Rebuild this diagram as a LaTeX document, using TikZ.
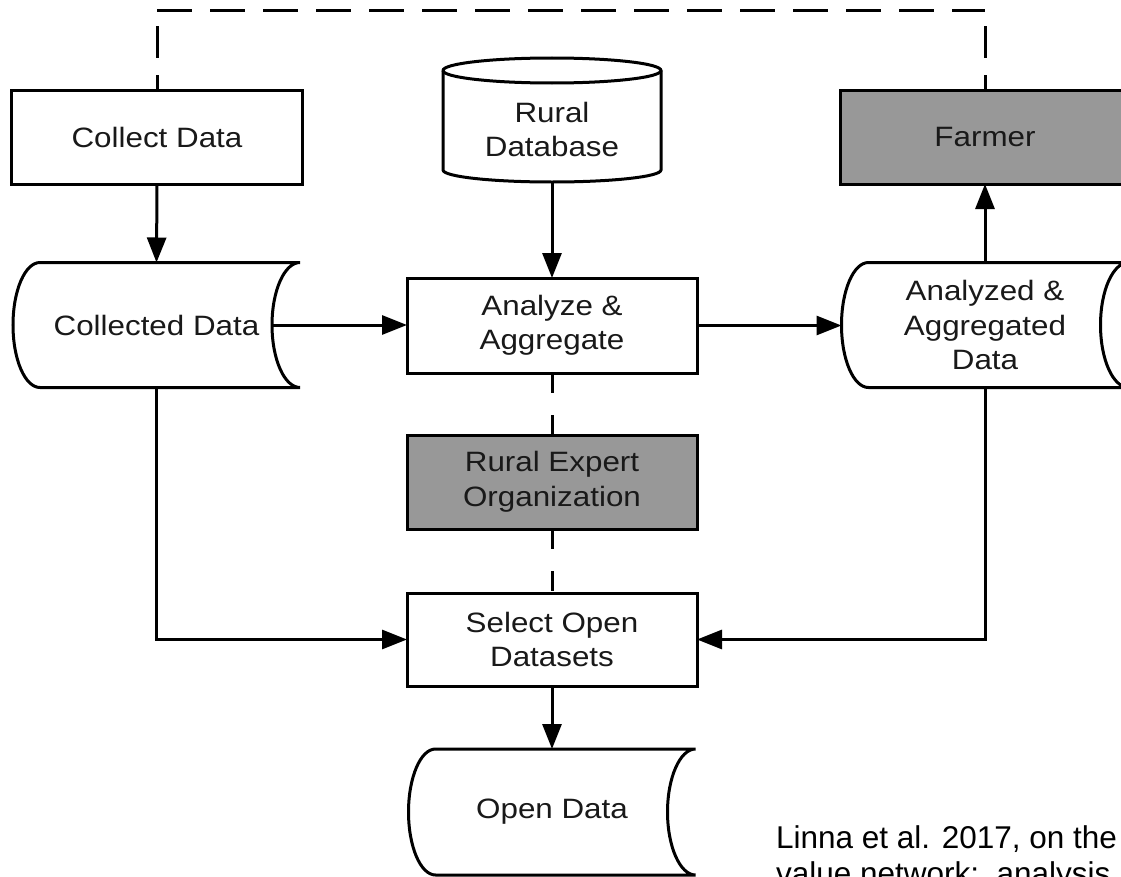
\documentclass[tikz,border=0pt]{standalone}
\usepackage{fontspec}
\setmainfont{Liberation Sans}
\newfontfamily\diafont{Liberation Sans}[FakeStretch=1.12]
\usetikzlibrary{arrows.meta,calc}
\definecolor{boxgray}{RGB}{152,152,152}
\newcommand\storedpath[1]{%
\draw[ln] ([xshift=27bp]#1.north west) -- (#1.north east)
 .. controls ([xshift=-15.5bp]#1.north east) and ([xshift=-28bp,yshift=34.5bp]#1.east) .. ([xshift=-28bp]#1.east)
 .. controls ([xshift=-28bp,yshift=-34.5bp]#1.east) and ([xshift=-15.5bp]#1.south east) .. (#1.south east)
 -- ([xshift=27bp]#1.south west)
 .. controls ([xshift=12bp]#1.south west) and ([yshift=-34.5bp]#1.west) .. (#1.west)
 .. controls ([yshift=34.5bp]#1.west) and ([xshift=12bp]#1.north west) .. cycle;}
\begin{document}
\begin{tikzpicture}[x=1bp,y=-1bp,
 ln/.style={line width=3bp, draw=black},
 txt/.style={font=\diafont\fontsize{28bp}{34.5bp}\selectfont, align=center, text=black!90},
 procbox/.style={ln, txt, rectangle, minimum width=290bp, minimum height=94bp, inner sep=0pt, outer sep=0pt, fill=white},
 graybox/.style={procbox, fill=boxgray},
 storebox/.style={txt, rectangle, minimum width=287bp, minimum height=125bp, inner sep=0pt, outer sep=0pt},
 arr/.style={ln, -{Triangle[length=25bp,width=19bp]}},
 dashlong/.style={ln, dash pattern=on 35bp off 18bp},
 dashvert/.style={ln, dash pattern=on 32bp off 17bp, dash phase=17bp},
 dashmid/.style={ln, dash pattern=on 20bp off 22bp},
 capt/.style={font=\fontsize{31.5bp}{36bp}\selectfont, inner sep=0pt, outer sep=0pt, text=black}
]
\useasboundingbox (0,0) rectangle (1121,877);
\clip (0,0) rectangle (1121,877);
\fill[white] (0,0) rectangle (1121,877);

% process boxes
\node[procbox] (cdata) at (157,137) {Collect Data};
\node[graybox] (farmer) at (985,137) {Farmer};
\node[procbox, minimum height=95bp] (aa) at (552,325.5) {Analyze \&\\Aggregate};
\node[graybox] (reo) at (552,482) {Rural Expert\\Organization};
\node[procbox, minimum height=93bp] (sel) at (552,639.5) {Select Open\\Datasets};

% stored data shapes
\node[storebox] (cd) at (156.5,325) {Collected Data};
\storedpath{cd}
\node[storebox] (ad) at (985,325) {Analyzed \&\\Aggregated\\Data};
\storedpath{ad}
\node[storebox, minimum height=126bp] (od) at (552,812) {Open Data};
\storedpath{od}

% database cylinder
\node[rectangle, minimum width=218bp, minimum height=124bp, inner sep=0pt, outer sep=0pt] (rd) at (552,120) {};
\draw[ln] ([yshift=-12.5bp]rd.north west) -- ([yshift=12bp]rd.south west)
  arc[start angle=180, end angle=360, x radius=109bp, y radius=12bp]
  -- ([yshift=-12.5bp]rd.north east)
  arc[start angle=0, end angle=180, x radius=109bp, y radius=12.5bp] -- cycle;
\draw[ln] ([yshift=-12.5bp]rd.north west) arc[start angle=180, end angle=360, x radius=109bp, y radius=12.5bp];
\node[txt, inner sep=0pt] (rdlabel) at (552,129.5) {Rural\\Database};

% dashed links
\coordinate (tl) at (157,10);
\coordinate (tr) at (985,10);
\draw[dashvert] (cdata.north) -- (tl);
\draw[dashlong] (tl) -- (tr);
\draw[dashvert] (farmer.north) -- (tr);
\draw[dashmid] (aa.south) -- (reo.north);
\draw[dashmid] (reo.south) -- (sel.north);

% arrows
\coordinate (cdin) at ([xshift=-28bp]cd.east);
\draw[arr] (cdata.south) -- (cd.north);
\draw[arr] (rd.south) -- (aa.north);
\draw[arr] (cdin) -- (cdin -| aa.west);
\draw[arr] (aa.east) -- (aa.east -| ad.west);
\draw[arr] (ad.north) -- (farmer.south);
\draw[arr] (cd.south) |- (sel.west);
\draw[arr] (ad.south) |- (sel.east);
\draw[arr] (sel.south) -- (od.north);

% caption
\node[capt, anchor=base west] (cap1) at (776,848) {Linna et al. 2017, on the};
\node[capt, anchor=base west] (cap2) at (776,884) {value network;~ analysis};
\end{tikzpicture}
\end{document}
